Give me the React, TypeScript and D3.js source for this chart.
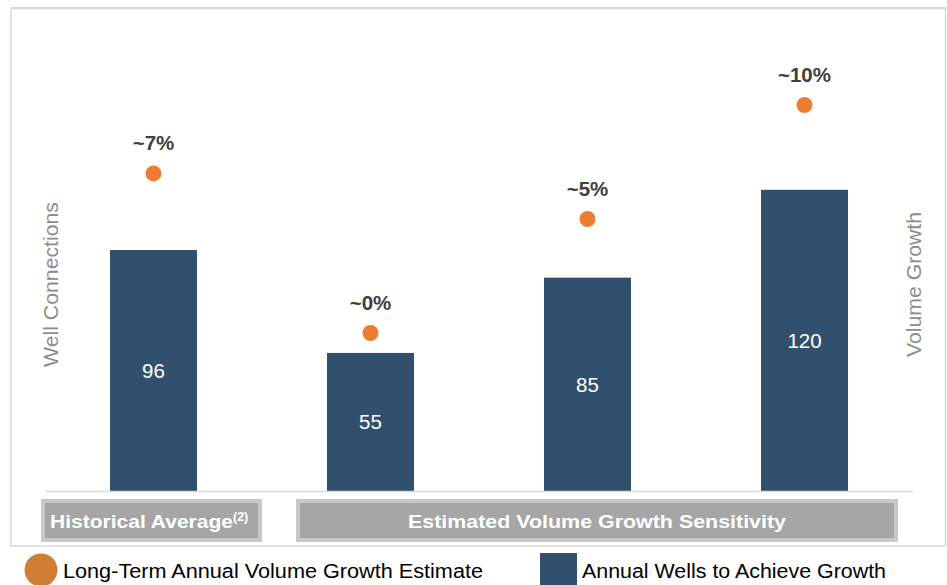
import React from "react";
import * as d3 from "d3";

const categories = ["Historical", "~0%", "~5%", "~10%"];
const wellValues = [96, 55, 85, 120];
const growthValues = [7, 0, 5, 10];
const growthLabels = ["~7%", "~0%", "~5%", "~10%"];
const groupLabels = ["Historical Average", "Estimated Volume Growth Sensitivity"];
const legendLabels = ["Long-Term Annual Volume Growth Estimate", "Annual Wells to Achieve Growth"];

const W = 947;
const H = 585;
const FONT = "'Liberation Sans', Arial, sans-serif";
const BAR = "#31506D";
const DOT = "#ED7D31";

export default function App() {
  const x = d3.scaleBand<string>().domain(categories).range([46, 914]).padding(0);
  const yBar = d3.scaleLinear().domain([0, 160]).range([491, 89.4]);
  const yPct = d3.scaleLinear().domain([0, 10]).range([333, 105]);
  const barW = 87;

  return (
    <svg
      width={W}
      height={H}
      style={{ position: "absolute", left: 0, top: 0, background: "#fff" }}
      fontFamily={FONT}
    >
      <rect x={11} y={8.5} width={934.5} height={537.5} fill="#fff" stroke="#d9d9d9" strokeWidth={1.5} />
      <line x1={11} x2={946} y1={8} y2={8} stroke="#d9d9d9" strokeWidth={2} />

      <text
        transform={`translate(58,284.5) rotate(-90)`}
        textAnchor="middle"
        fontSize={20}
        fill="#8c8c8c"
        textLength={165}
        lengthAdjust="spacingAndGlyphs"
      >
        Well Connections
      </text>
      <text
        transform={`translate(921,284.5) rotate(-90)`}
        textAnchor="middle"
        fontSize={20}
        fill="#8c8c8c"
        textLength={145}
        lengthAdjust="spacingAndGlyphs"
      >
        Volume Growth
      </text>

      {categories.map((c, i) => {
        const cx = (x(c) as number) + x.bandwidth() / 2 - 1;
        const top = yBar(wellValues[i]);
        return (
          <g key={c}>
            <rect x={cx - barW / 2} y={top} width={barW} height={yBar(0) - top} fill={BAR} />
            <text x={cx} y={(top + yBar(0)) / 2 + 7.5} textAnchor="middle" fontSize={20.5} fill="#fff">
              {wellValues[i]}
            </text>
            <circle cx={cx} cy={yPct(growthValues[i])} r={8} fill={DOT} />
            <text
              x={cx}
              y={yPct(growthValues[i]) - 23}
              textAnchor="middle"
              fontSize={20.5}
              fontWeight="bold"
              fill="#404040"
            >
              {growthLabels[i]}
            </text>
          </g>
        );
      })}

      <line x1={46} x2={913} y1={491.5} y2={491.5} stroke="#d9d9d9" strokeWidth={1.5} />

      <rect x={41} y={499} width={221} height={43} fill="#c8c8c8" />
      <rect x={45} y={503} width={213} height={35} fill="#a6a6a6" />
      <text x={50} y={527.5} fontSize={19} fontWeight="bold" fill="#fff">
        <tspan textLength={183} lengthAdjust="spacingAndGlyphs">{groupLabels[0]}</tspan>
        <tspan fontSize={12.5} dy={-7}>(2)</tspan>
      </text>

      <rect x={296} y={499} width={602} height={43} fill="#c8c8c8" />
      <rect x={300} y={503} width={594} height={35} fill="#a6a6a6" />
      <text
        x={597}
        y={527.5}
        textAnchor="middle"
        fontSize={19}
        fontWeight="bold"
        fill="#fff"
        textLength={378}
        lengthAdjust="spacingAndGlyphs"
      >
        {groupLabels[1]}
      </text>

      <circle cx={41} cy={570} r={16.5} fill="#D07E35" />
      <text x={63} y={577.5} fontSize={20} fill="#000" textLength={420} lengthAdjust="spacingAndGlyphs">
        {legendLabels[0]}
      </text>
      <rect x={540} y={553} width={37} height={34} fill={BAR} />
      <text x={582} y={577.5} fontSize={20} fill="#000" textLength={304} lengthAdjust="spacingAndGlyphs">
        {legendLabels[1]}
      </text>
    </svg>
  );
}
